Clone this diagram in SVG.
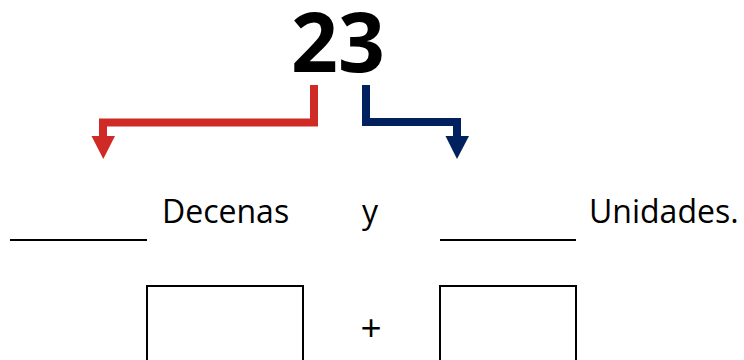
<svg xmlns="http://www.w3.org/2000/svg" width="744" height="360" viewBox="0 0 744 360">
<style>
.t{font-family:"Open Sans","Liberation Sans",sans-serif;font-size:32px;fill:#000}
.big{font-family:"Open Sans","Liberation Sans",sans-serif;font-weight:bold;font-size:82px;fill:#000}
.ln{stroke:#000;stroke-width:2;fill:none}
</style>
<rect width="744" height="360" fill="#fff"/>
<g id="number"><text class="big" x="338" y="72" text-anchor="middle">23</text></g>
<g id="connectors">
<path d="M314,85 V122.5 H103 V138" fill="none" stroke="#d02a27" stroke-width="8"/>
<polygon points="91.5,136 115,136 103.3,159" fill="#d02a27"/>
<path d="M366,85 V122 H457 V138" fill="none" stroke="#00215e" stroke-width="8"/>
<polygon points="445.5,136 469,136 457,159" fill="#00215e"/>
</g>
<g id="decenas"><line class="ln" x1="10" y1="240" x2="147" y2="240"/><text class="t" x="162" y="223">Decenas</text></g>
<g id="y"><text class="t" x="362" y="223">y</text></g>
<g id="unidades"><line class="ln" x1="440" y1="240" x2="576" y2="240"/><text class="t" x="589" y="223">Unidades.</text></g>
<g id="box1"><rect class="ln" x="147" y="286" width="156" height="100"/></g>
<g id="plus"><text class="t" x="371" y="341" text-anchor="middle" style="font-size:37px">+</text></g>
<g id="box2"><rect class="ln" x="440" y="286" width="136" height="100"/></g>
</svg>
